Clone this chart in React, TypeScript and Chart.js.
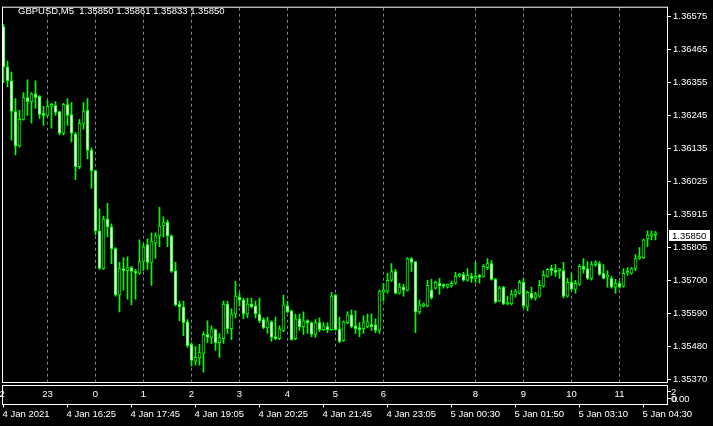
import React, { useEffect, useRef } from "react";
import { Chart, registerables } from "chart.js";

Chart.register(...registerables);

// ---- Data (GBPUSD M5) ----
const openP = [
  1.36541, 1.36407, 1.36361, 1.36259, 1.36145, 1.36233, 1.36305, 1.36292, 1.36318, 1.36309,
  1.36253, 1.36246, 1.36276, 1.36279, 1.36259, 1.36187, 1.36282, 1.36249, 1.36184, 1.36076,
  1.36217, 1.36263, 1.36131, 1.36063, 1.35863, 1.35738, 1.35902, 1.35876, 1.35804, 1.35650,
  1.35738, 1.35731, 1.35741, 1.35728, 1.35722, 1.35761, 1.35817, 1.35758, 1.35823, 1.35846,
  1.35879, 1.35892, 1.35846, 1.35731, 1.35620, 1.35610, 1.35561, 1.35486, 1.35430, 1.35440,
  1.35456, 1.35519, 1.35509, 1.35535, 1.35492, 1.35505, 1.35620, 1.35538, 1.35587, 1.35643,
  1.35633, 1.35587, 1.35620, 1.35614, 1.35587, 1.35568, 1.35541, 1.35561, 1.35512, 1.35505,
  1.35532, 1.35614, 1.35597, 1.35505, 1.35571, 1.35545, 1.35564, 1.35558, 1.35519, 1.35558,
  1.35535, 1.35545, 1.35535, 1.35650, 1.35538, 1.35499, 1.35558, 1.35584, 1.35548, 1.35541,
  1.35538, 1.35545, 1.35551, 1.35551, 1.35532, 1.35659, 1.35663, 1.35699, 1.35728, 1.35656,
  1.35676, 1.35666, 1.35771, 1.35761, 1.35594, 1.35614, 1.35614, 1.35666, 1.35673, 1.35689,
  1.35682, 1.35676, 1.35679, 1.35689, 1.35712, 1.35718, 1.35699, 1.35712, 1.35705, 1.35712,
  1.35712, 1.35741, 1.35754, 1.35702, 1.35630, 1.35676, 1.35620, 1.35620, 1.35650, 1.35656,
  1.35692, 1.35610, 1.35656, 1.35640, 1.35646, 1.35679, 1.35712, 1.35735, 1.35731, 1.35731,
  1.35731, 1.35646, 1.35692, 1.35669, 1.35686, 1.35745, 1.35738, 1.35705, 1.35751, 1.35754,
  1.35722, 1.35709, 1.35705, 1.35676, 1.35689, 1.35679, 1.35722, 1.35722, 1.35738, 1.35771,
  1.35774, 1.35836, 1.35846, 1.35850,
];
const highP = [
  1.36548, 1.36426, 1.36390, 1.36302, 1.36263, 1.36322, 1.36364, 1.36322, 1.36361, 1.36312,
  1.36276, 1.36295, 1.36286, 1.36292, 1.36259, 1.36286, 1.36302, 1.36289, 1.36190, 1.36233,
  1.36289, 1.36302, 1.36138, 1.36063, 1.35935, 1.35912, 1.35954, 1.35886, 1.35807, 1.35758,
  1.35774, 1.35777, 1.35745, 1.35735, 1.35833, 1.35820, 1.35836, 1.35856, 1.35856, 1.35941,
  1.35909, 1.35899, 1.35850, 1.35758, 1.35630, 1.35630, 1.35568, 1.35492, 1.35479, 1.35486,
  1.35528, 1.35564, 1.35548, 1.35535, 1.35522, 1.35630, 1.35630, 1.35604, 1.35695, 1.35656,
  1.35640, 1.35640, 1.35640, 1.35630, 1.35640, 1.35574, 1.35577, 1.35564, 1.35577, 1.35548,
  1.35650, 1.35630, 1.35600, 1.35587, 1.35587, 1.35594, 1.35568, 1.35561, 1.35568, 1.35574,
  1.35558, 1.35558, 1.35659, 1.35652, 1.35577, 1.35564, 1.35594, 1.35600, 1.35597, 1.35558,
  1.35581, 1.35587, 1.35587, 1.35571, 1.35666, 1.35689, 1.35722, 1.35754, 1.35735, 1.35689,
  1.35686, 1.35774, 1.35774, 1.35761, 1.35633, 1.35623, 1.35699, 1.35702, 1.35696, 1.35705,
  1.35686, 1.35686, 1.35696, 1.35725, 1.35722, 1.35725, 1.35738, 1.35722, 1.35758, 1.35718,
  1.35751, 1.35771, 1.35764, 1.35705, 1.35679, 1.35679, 1.35646, 1.35666, 1.35669, 1.35699,
  1.35705, 1.35663, 1.35676, 1.35659, 1.35699, 1.35731, 1.35738, 1.35748, 1.35751, 1.35738,
  1.35758, 1.35705, 1.35722, 1.35699, 1.35751, 1.35771, 1.35761, 1.35761, 1.35764, 1.35761,
  1.35751, 1.35731, 1.35712, 1.35702, 1.35696, 1.35738, 1.35741, 1.35741, 1.35784, 1.35807,
  1.35836, 1.35863, 1.35863, 1.35861,
];
const lowP = [
  1.36354, 1.36341, 1.36164, 1.36115, 1.36141, 1.36230, 1.36246, 1.36220, 1.36269, 1.36236,
  1.36213, 1.36243, 1.36204, 1.36246, 1.36181, 1.36181, 1.36213, 1.36158, 1.36033, 1.36069,
  1.36200, 1.36102, 1.36004, 1.35850, 1.35735, 1.35735, 1.35843, 1.35754, 1.35646, 1.35594,
  1.35666, 1.35636, 1.35617, 1.35636, 1.35718, 1.35731, 1.35735, 1.35682, 1.35771, 1.35810,
  1.35843, 1.35810, 1.35725, 1.35614, 1.35564, 1.35515, 1.35476, 1.35414, 1.35417, 1.35417,
  1.35394, 1.35492, 1.35489, 1.35466, 1.35443, 1.35489, 1.35522, 1.35502, 1.35574, 1.35614,
  1.35571, 1.35574, 1.35607, 1.35574, 1.35558, 1.35538, 1.35522, 1.35496, 1.35502, 1.35502,
  1.35528, 1.35591, 1.35499, 1.35502, 1.35532, 1.35519, 1.35522, 1.35512, 1.35509, 1.35528,
  1.35532, 1.35525, 1.35532, 1.35532, 1.35492, 1.35496, 1.35555, 1.35541, 1.35522, 1.35512,
  1.35522, 1.35541, 1.35532, 1.35525, 1.35522, 1.35630, 1.35656, 1.35695, 1.35653, 1.35653,
  1.35646, 1.35663, 1.35728, 1.35525, 1.35587, 1.35610, 1.35610, 1.35636, 1.35669, 1.35653,
  1.35673, 1.35673, 1.35676, 1.35686, 1.35709, 1.35696, 1.35696, 1.35692, 1.35692, 1.35689,
  1.35709, 1.35735, 1.35699, 1.35623, 1.35627, 1.35618, 1.35617, 1.35617, 1.35643, 1.35653,
  1.35607, 1.35597, 1.35636, 1.35633, 1.35643, 1.35676, 1.35709, 1.35715, 1.35712, 1.35705,
  1.35640, 1.35643, 1.35666, 1.35656, 1.35682, 1.35722, 1.35702, 1.35699, 1.35745, 1.35715,
  1.35703, 1.35676, 1.35673, 1.35656, 1.35673, 1.35676, 1.35715, 1.35718, 1.35731, 1.35768,
  1.35771, 1.35810, 1.35833, 1.35833,
];
const closeP = [
  1.36407, 1.36361, 1.36259, 1.36145, 1.36233, 1.36305, 1.36292, 1.36318, 1.36305, 1.36249,
  1.36246, 1.36276, 1.36282, 1.36256, 1.36187, 1.36282, 1.36246, 1.36187, 1.36076, 1.36220,
  1.36259, 1.36131, 1.36063, 1.35863, 1.35738, 1.35902, 1.35876, 1.35804, 1.35650, 1.35738,
  1.35731, 1.35741, 1.35728, 1.35722, 1.35761, 1.35810, 1.35758, 1.35827, 1.35846, 1.35879,
  1.35892, 1.35846, 1.35728, 1.35617, 1.35610, 1.35558, 1.35482, 1.35433, 1.35443, 1.35459,
  1.35519, 1.35509, 1.35538, 1.35492, 1.35509, 1.35620, 1.35538, 1.35587, 1.35646, 1.35633,
  1.35587, 1.35620, 1.35610, 1.35587, 1.35564, 1.35541, 1.35564, 1.35509, 1.35505, 1.35538,
  1.35617, 1.35594, 1.35502, 1.35571, 1.35545, 1.35564, 1.35558, 1.35519, 1.35558, 1.35535,
  1.35548, 1.35535, 1.35646, 1.35535, 1.35496, 1.35561, 1.35584, 1.35545, 1.35538, 1.35535,
  1.35558, 1.35561, 1.35545, 1.35532, 1.35663, 1.35666, 1.35699, 1.35728, 1.35656, 1.35676,
  1.35666, 1.35771, 1.35758, 1.35594, 1.35617, 1.35620, 1.35682, 1.35640, 1.35692, 1.35679,
  1.35679, 1.35686, 1.35689, 1.35712, 1.35718, 1.35699, 1.35715, 1.35705, 1.35712, 1.35709,
  1.35745, 1.35754, 1.35702, 1.35627, 1.35673, 1.35620, 1.35623, 1.35653, 1.35663, 1.35692,
  1.35614, 1.35659, 1.35640, 1.35653, 1.35682, 1.35715, 1.35735, 1.35731, 1.35725, 1.35735,
  1.35646, 1.35692, 1.35669, 1.35689, 1.35745, 1.35735, 1.35705, 1.35751, 1.35754, 1.35718,
  1.35705, 1.35712, 1.35676, 1.35689, 1.35676, 1.35722, 1.35728, 1.35738, 1.35771, 1.35774,
  1.35833, 1.35850, 1.35850, 1.35850,
];

const priceLabels = [
  "1.36575", "1.36465", "1.36355", "1.36245", "1.36135", "1.36025",
  "1.35915", "1.35805", "1.35700", "1.35590", "1.35480", "1.35370",
];
const priceTop = 1.36575;
const priceBottom = 1.3537;

const hourBars = [-1, 11, 23, 35, 47, 59, 71, 83, 95, 118, 130, 142, 154];
const hourLabels = ["22", "23", "0", "1", "2", "3", "4", "5", "6", "8", "9", "10", "11"];

const dateBars = [0, 16, 32, 48, 64, 80, 96, 112, 128, 144, 160];
const dateLabels = [
  "4 Jan 2021", "4 Jan 16:25", "4 Jan 17:45", "4 Jan 19:05", "4 Jan 20:25",
  "4 Jan 21:45", "4 Jan 23:05", "5 Jan 00:30", "5 Jan 01:50", "5 Jan 03:10", "5 Jan 04:30",
];

const titleText = "GBPUSD,M5  1.35850 1.35861 1.35833 1.35850";
const lastPrice = 1.3585;
const lastPriceLabel = "1.35850";

const FAMILY = '"Liberation Sans", Arial, sans-serif';
const FSIZE = 9.5;
const LIME = "#00FF00";

const mtPlugin = {
  id: "mtDecor",
  beforeDraw(chart: any) {
    const ctx = chart.ctx;
    ctx.save();
    ctx.fillStyle = "#000000";
    ctx.fillRect(0, 0, chart.width, chart.height);
    ctx.restore();
  },
  afterDraw(chart: any) {
    const ctx = chart.ctx;
    const area = chart.chartArea;
    const xs = chart.scales.x;
    const ys = chart.scales.y;
    ctx.save();
    ctx.strokeStyle = "#FFFFFF";
    ctx.lineWidth = 1;
    // main frame
    ctx.strokeRect(area.left - 0.5, area.top - 0.5, area.right - area.left + 1, area.bottom - area.top + 1);
    // sub window
    const subTop = area.bottom + 3.5;
    const subBottom = area.bottom + 22.5;
    ctx.strokeRect(area.left - 0.5, subTop, area.right - area.left + 1, subBottom - subTop);

    ctx.font = `${FSIZE}px ${FAMILY}`;
    ctx.fillStyle = "#FFFFFF";
    ctx.textBaseline = "alphabetic";

    // title
    ctx.textAlign = "left";
    ctx.fillText(titleText, 18, 14);

    // hour labels in sub window
    ctx.textAlign = "center";
    hourBars.forEach((b, k) => {
      const px = xs.getPixelForValue(b);
      ctx.fillText(hourLabels[k], px, area.bottom + 15);
    });

    // sub window right scale
    ctx.textAlign = "left";
    ctx.beginPath();
    ctx.moveTo(area.right + 1, area.bottom + 9.5);
    ctx.lineTo(area.right + 4, area.bottom + 9.5);
    ctx.moveTo(area.right + 1, area.bottom + 16.5);
    ctx.lineTo(area.right + 4, area.bottom + 16.5);
    ctx.stroke();
    ctx.fillText("2", area.right + 4, area.bottom + 13);
    ctx.fillText("0", area.right + 5, area.bottom + 20);
    ctx.fillText("0.00", area.right + 4, area.bottom + 20);

    // date axis
    ctx.beginPath();
    dateBars.forEach((b) => {
      const px = Math.floor(xs.getPixelForValue(b)) + 0.5;
      ctx.moveTo(px, subBottom);
      ctx.lineTo(px, subBottom + 3);
    });
    ctx.stroke();
    ctx.textAlign = "left";
    dateBars.forEach((b, k) => {
      const px = xs.getPixelForValue(b);
      ctx.fillText(dateLabels[k], px - 1, area.bottom + 35);
    });

    // current price label
    const py = ys.getPixelForValue(lastPrice);
    ctx.fillStyle = "#FFFFFF";
    ctx.fillRect(area.right + 2, Math.round(py) - 5, 41, 11);
    ctx.fillStyle = "#000000";
    ctx.fillText(lastPriceLabel, area.right + 5, Math.round(py) + 4);
    ctx.restore();
  },
};

export default function App() {
  const ref = useRef<HTMLCanvasElement | null>(null);

  useEffect(() => {
    if (!ref.current) return;
    const idx = openP.map((_, i) => i);
    const pxPerPrice = (priceTop - priceBottom) / (379.3 - 11.7);
    const yMax = priceTop + (11.7 - 3) * pxPerPrice;
    const yMin = priceBottom - (382 - 379.3) * pxPerPrice;
    const step = (priceTop - priceBottom) / (priceLabels.length - 1);
    const tickVals = priceLabels.map((_, k) => priceTop - k * step);

    const chart = new Chart(ref.current, {
      type: "bar",
      data: {
        datasets: [
          {
            label: "body",
            data: idx.map((i) => ({ x: i, y: [openP[i], closeP[i]] })) as any,
            backgroundColor: (c: any) =>
              closeP[c.dataIndex] < openP[c.dataIndex] ? "#FFFFFF" : "#000000",
            borderColor: LIME,
            borderWidth: 1,
            borderSkipped: false,
            barThickness: 3,
            minBarLength: 2,
            grouped: false,
            order: 0,
          } as any,
          {
            label: "wick",
            data: idx.map((i) => ({ x: i, y: [lowP[i], highP[i]] })) as any,
            backgroundColor: LIME,
            borderWidth: 0,
            barThickness: 1,
            minBarLength: 1,
            grouped: false,
            order: 1,
          } as any,
        ],
      },
      options: {
        responsive: false,
        animation: false,
        devicePixelRatio: 1,
        events: [],
        layout: { padding: { left: 3, top: 3, right: 0, bottom: 0 } },
        plugins: { legend: { display: false }, tooltip: { enabled: false } },
        scales: {
          x: {
            type: "linear",
            offset: false,
            min: -0.125,
            max: 165.875,
            afterBuildTicks: (s: any) => {
              s.ticks = hourBars.filter((b) => b >= 0).map((b) => ({ value: b }));
            },
            afterFit: (s: any) => {
              s.height = 44;
            },
            ticks: { display: false },
            grid: { color: "#778899", lineWidth: 1, drawTicks: false, offset: false },
            border: { display: false, dash: [3, 3] },
          },
          y: {
            type: "linear",
            position: "right",
            min: yMin,
            max: yMax,
            afterBuildTicks: (s: any) => {
              s.ticks = tickVals.map((v) => ({ value: v }));
            },
            afterFit: (s: any) => {
              s.width = 46;
            },
            ticks: {
              autoSkip: false,
              color: "#FFFFFF",
              padding: 2,
              font: { family: FAMILY, size: FSIZE },
              callback: (_v: any, i: number) => priceLabels[i],
            },
            grid: { drawOnChartArea: false, drawTicks: true, tickLength: 4, tickColor: "#FFFFFF" },
            border: { display: false },
          },
        },
      } as any,
      plugins: [mtPlugin],
    });
    return () => chart.destroy();
  }, []);

  return (
    <div style={{ position: "fixed", left: 0, top: 0, width: 713, height: 426, background: "#000" }}>
      <canvas ref={ref} width={713} height={426} style={{ display: "block", width: 713, height: 426 }} />
    </div>
  );
}
